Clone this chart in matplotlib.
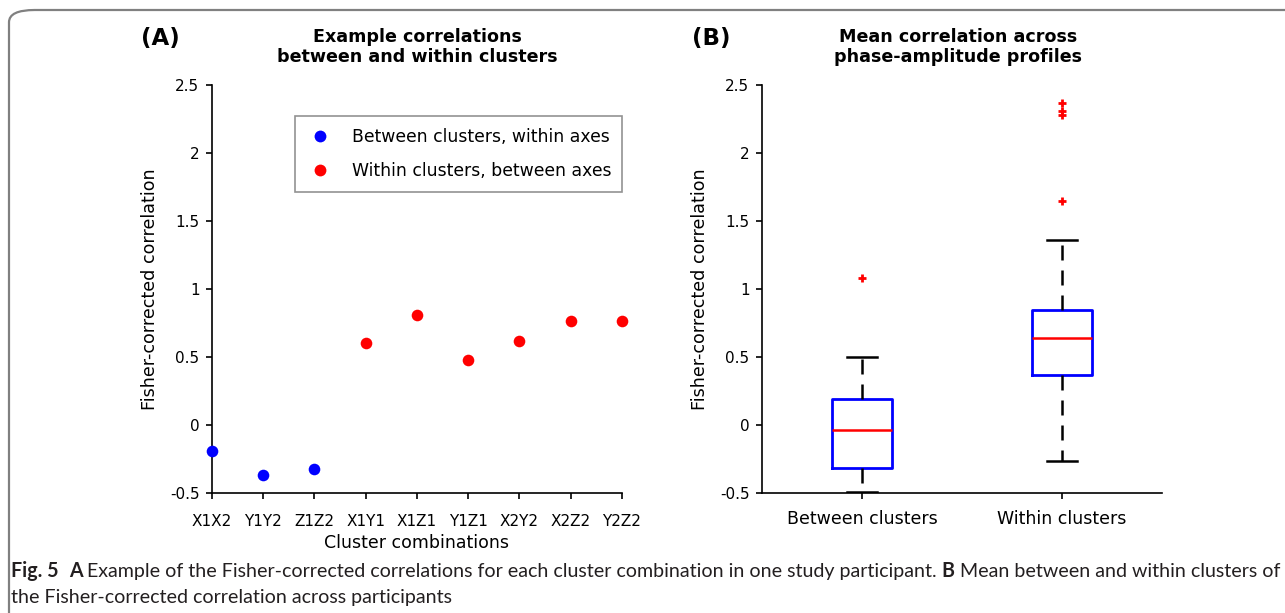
import numpy as np
import matplotlib.pyplot as plt
from matplotlib.patches import FancyBboxPatch
from matplotlib.lines import Line2D

# panel A data
pairs = ['X1X2', 'Y1Y2', 'Z1Z2', 'X1Y1', 'X1Z1', 'Y1Z1', 'X2Y2', 'X2Z2', 'Y2Z2']
between_vals = [-0.19, -0.37, -0.32]
within_vals = [0.605, 0.81, 0.478, 0.615, 0.767, 0.762]

# panel B box summaries
groups = ['Between clusters', 'Within clusters']
q1 = [-0.318, 0.37]
med = [-0.035, 0.642]
q3 = [0.189, 0.848]
wlo = [-0.495, -0.267]
whi = [0.50, 1.36]
outliers = [[1.083], [1.645, 2.28, 2.307, 2.365]]

W, H = 1285, 613
fig = plt.figure(figsize=(W / 100, H / 100), dpi=100)

def px_axes(l, t, r, b):
    return fig.add_axes([l / W, 1 - b / H, (r - l) / W, (b - t) / H])

def style(ax):
    for s in ['top', 'right']:
        ax.spines[s].set_visible(False)
    for s in ['left', 'bottom']:
        ax.spines[s].set_linewidth(1.2)
    ax.tick_params(direction='out', length=4, width=1.2, labelsize=11, pad=5)
    ax.set_ylim(-0.5, 2.5)
    ax.set_yticks([-0.5, 0, 0.5, 1, 1.5, 2, 2.5])
    ax.set_yticklabels(['-0.5', '0', '0.5', '1', '1.5', '2', '2.5'])
    ax.set_ylabel('Fisher-corrected correlation', fontsize=12.6, labelpad=8)

# ---- panel A
axA = px_axes(212, 85, 622, 493)
style(axA)
xpos = np.arange(1, len(pairs) + 1)
axA.scatter(xpos[:3], between_vals, s=70, color='#0000ff', clip_on=False, zorder=3, linewidths=0)
axA.scatter(xpos[3:], within_vals, s=70, color='#ff0000', clip_on=False, zorder=3, linewidths=0)
axA.set_xlim(1, 9)
axA.set_xticks(xpos)
axA.set_xticklabels(pairs, fontsize=11)
axA.tick_params(axis='x', pad=11)
axA.set_xlabel('Cluster combinations', fontsize=12.5, labelpad=4)
handles = [Line2D([], [], ls='none', marker='o', ms=8.5, color='#0000ff', mec='none'),
           Line2D([], [], ls='none', marker='o', ms=8.5, color='#ff0000', mec='none')]
leg = axA.legend(handles, ['Between clusters, within axes', 'Within clusters, between axes'],
                 loc='upper left', bbox_to_anchor=(0.202, 0.924, 0.798, 0.0), mode='expand',
                 fontsize=12.4, frameon=True, fancybox=False, edgecolor='#777777',
                 borderpad=0.7, labelspacing=0.9, handletextpad=1.1, handlelength=1.5,
                 borderaxespad=0)
leg.get_frame().set_linewidth(1.2)

# ---- panel B
axB = px_axes(762, 85, 1162, 493)
style(axB)
stats = []
for i in range(len(groups)):
    stats.append(dict(label=groups[i], q1=q1[i], med=med[i], q3=q3[i],
                      whislo=wlo[i], whishi=whi[i], fliers=outliers[i]))
axB.bxp(stats, positions=[1, 2], widths=0.3, showfliers=True,
        boxprops=dict(color='#0000ff', linewidth=2),
        medianprops=dict(color='#ff0000', linewidth=1.8),
        whiskerprops=dict(color='black', linewidth=1.8, linestyle=(0, (6, 4))),
        capprops=dict(color='black', linewidth=1.8),
        flierprops=dict(marker='+', markeredgecolor='#ff0000', markersize=6, markeredgewidth=2))
axB.set_xlim(0.5, 2.5)
axB.tick_params(axis='x', labelsize=12.5, pad=8)

# ---- titles
def ftext(x, y, s, **kw):
    return fig.text(x / W, 1 - y / H, s, **kw)

ftext(160, 38, '(A)', fontsize=16.5, fontweight='bold', ha='center', va='center')
ftext(711, 38, '(B)', fontsize=16.5, fontweight='bold', ha='center', va='center')
ftext(417, 47, 'Example correlations\nbetween and within clusters', fontsize=12.6, fontweight='bold',
      ha='center', va='center', linespacing=1.2)
ftext(958, 47, 'Mean correlation across\nphase-amplitude profiles', fontsize=12.6, fontweight='bold',
      ha='center', va='center', linespacing=1.2)

# ---- frame
frame = FancyBboxPatch((9 / W, -0.2), 1.2, 1 - 10 / H + 0.2, transform=fig.transFigure,
                       boxstyle='round,pad=0,rounding_size=0.02', facecolor='none',
                       edgecolor='#808080', linewidth=1.6, clip_on=False)
fig.add_artist(frame)

# ---- caption with bold runs
renderer = fig.canvas.get_renderer()
cap_font = dict(family='Lato', fontsize=14.1, color='#231f20', va='baseline')

def runs(x, y, parts):
    for txt, bold in parts:
        t = ftext(x, y, txt, fontweight='bold' if bold else 'normal', **cap_font)
        bb = t.get_window_extent(renderer)
        x += bb.width

runs(11, 577, [('Fig. 5', True), ('  ', False), ('A', True),
               (' Example of the Fisher-corrected correlations for each cluster combination in one study participant. ', False),
               ('B', True), (' Mean between and within clusters of', False)])
runs(11, 603, [('the Fisher-corrected correlation across participants', False)])

fig.savefig('out.png', dpi=100)
